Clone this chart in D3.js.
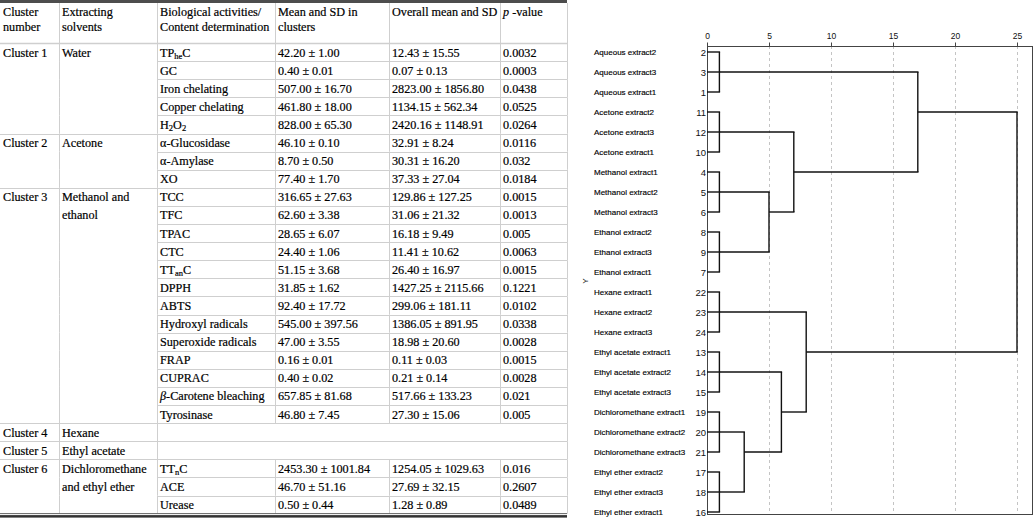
<!DOCTYPE html>
<html><head><meta charset="utf-8">
<script src="https://cdn.jsdelivr.net/npm/d3@7"></script>
<style>body{margin:0;background:#fff;overflow:hidden}</style>
</head><body><svg id="c" width="1034" height="518"></svg>
<script>
// ---------------- TABLE DATA ----------------
const headers = [["Cluster","number"],["Extracting","solvents"],["Biological activities/","Content determination"],["Mean and SD in","clusters"],["Overall mean and SD"],["*p* -value"]];
const clusters = ["Cluster 1","Cluster 2","Cluster 3","Cluster 4","Cluster 5","Cluster 6"];
const solvents = [["Water"],["Acetone"],["Methanol and","ethanol"],["Hexane"],["Ethyl acetate"],["Dichloromethane","and ethyl ether"]];
const activities = [
  ["TP_{he}C","GC","Iron chelating","Copper chelating","H_{2}O_{2}"],
  ["α-Glucosidase","α-Amylase","XO"],
  ["TCC","TFC","TPAC","CTC","TT_{an}C","DPPH","ABTS","Hydroxyl radicals","Superoxide radicals","FRAP","CUPRAC","*β*-Carotene bleaching","Tyrosinase"],
  [],[],
  ["TT_{n}C","ACE","Urease"]
];
const means = [
  ["42.20 ± 1.00","0.40 ± 0.01","507.00 ± 16.70","461.80 ± 18.00","828.00 ± 65.30"],
  ["46.10 ± 0.10","8.70 ± 0.50","77.40 ± 1.70"],
  ["316.65 ± 27.63","62.60 ± 3.38","28.65 ± 6.07","24.40 ± 1.06","51.15 ± 3.68","31.85 ± 1.62","92.40 ± 17.72","545.00 ± 397.56","47.00 ± 3.55","0.16 ± 0.01","0.40 ± 0.02","657.85 ± 81.68","46.80 ± 7.45"],
  [],[],
  ["2453.30 ± 1001.84","46.70 ± 51.16","0.50 ± 0.44"]
];
const overall = [
  ["12.43 ± 15.55","0.07 ± 0.13","2823.00 ± 1856.80","1134.15 ± 562.34","2420.16 ± 1148.91"],
  ["32.91 ± 8.24","30.31 ± 16.20","37.33 ± 27.04"],
  ["129.86 ± 127.25","31.06 ± 21.32","16.18 ± 9.49","11.41 ± 10.62","26.40 ± 16.97","1427.25 ± 2115.66","299.06 ± 181.11","1386.05 ± 891.95","18.98 ± 20.60","0.11 ± 0.03","0.21 ± 0.14","517.66 ± 133.23","27.30 ± 15.06"],
  [],[],
  ["1254.05 ± 1029.63","27.69 ± 32.15","1.28 ± 0.89"]
];
const pvalues = [
  ["0.0032","0.0003","0.0438","0.0525","0.0264"],
  ["0.0116","0.032","0.0184"],
  ["0.0015","0.0013","0.005","0.0063","0.0015","0.1221","0.0102","0.0338","0.0028","0.0015","0.0028","0.021","0.005"],
  [],[],
  ["0.016","0.2607","0.0489"]
];

// ---------------- DENDROGRAM DATA ----------------
const leafLabels = ["Aqueous extract2","Aqueous extract3","Aqueous extract1","Acetone extract2","Acetone extract3","Acetone extract1",
  "Methanol extract1","Methanol extract2","Methanol extract3","Ethanol extract2","Ethanol extract3","Ethanol extract1",
  "Hexane extract1","Hexane extract2","Hexane extract3","Ethyl acetate extract1","Ethyl acetate extract2","Ethyl acetate extract3",
  "Dichloromethane extract1","Dichloromethane extract2","Dichloromethane extract3","Ethyl ether extract2","Ethyl ether extract3","Ethyl ether extract1"];
const leafIds = [2,3,1,11,12,10,4,5,6,8,9,7,22,23,24,13,14,15,19,20,21,17,18,16];
// children: number = leaf index, "mK" = earlier merge K; h = rescaled distance
const merges = [
  {c:[0,1,2],h:1},{c:[3,4,5],h:1},{c:[6,7,8],h:1},{c:[9,10,11],h:1},
  {c:[12,13,14],h:1},{c:[15,16,17],h:1},{c:[18,19,20],h:1},{c:[21,22,23],h:1},
  {c:["m2","m3"],h:5},{c:["m1","m8"],h:7},{c:["m0","m9"],h:17},
  {c:["m6","m7"],h:3},{c:["m5","m11"],h:6},{c:["m4","m12"],h:8},
  {c:["m10","m13"],h:25}
];
const xTicks = [0,5,10,15,20,25];

// ---------------- DRAW TABLE ----------------
const svg = d3.select("#c");
const T = svg.append("g");
const serif = "'Liberation Serif','Times New Roman',serif";
const colEdges = [0,59,157,275,389,500,567];
const headTop = 3, bodyTop = 43, rowH = 18.1;
const grid = "#cfcfcf";

function rich(sel, str){
  const parts = str.split(/(_\{[^}]*\}|\*[^*]*\*)/).filter(s=>s.length);
  let sub=false;
  parts.forEach(p=>{
    if(p.startsWith("_{")){
      sel.append("tspan").attr("font-size","8.5px").attr("dy",sub?0:2.5).text(p.slice(2,-1)); sub=true;
    } else {
      const t = sel.append("tspan");
      if(sub){t.attr("dy",-2.5); sub=false;}
      if(p.startsWith("*")) t.attr("font-style","italic").text(p.slice(1,-1)); else t.text(p);
    }
  });
}
function txt(x,y,s){
  const t = T.append("text").attr("x",x).attr("y",y).attr("font-family",serif).attr("font-size","12.2px")
    .attr("fill","#000").attr("stroke","#000").attr("stroke-width",0.2);
  rich(t,s); return t;
}

const rows = [];
clusters.forEach((cl,ci)=>{
  const n = Math.max(1,activities[ci].length);
  for(let k=0;k<n;k++){
    rows.push({ci,k,first:k===0,act:activities[ci][k],mean:means[ci][k],ov:overall[ci][k],p:pvalues[ci][k]});
  }
});
const yRow = d3.scaleLinear().domain([0,rows.length]).range([bodyTop,bodyTop+rowH*rows.length]);
const bodyBottom = yRow(rows.length);

const line=(x1,y1,x2,y2,c,w)=>T.append("line").attr("x1",x1).attr("y1",y1).attr("x2",x2).attr("y2",y2).attr("stroke",c).attr("stroke-width",w||1);
colEdges.slice(1).forEach(x=>line(x+0.5,headTop,x+0.5,bodyTop,grid));
line(0,bodyTop+0.5,567,bodyTop+0.5,grid,1.5);
rows.forEach((r,i)=>{
  const y0=yRow(i), y1=yRow(i+1);
  [59,157,567].forEach(x=>line(x+0.5,y0,x+0.5,y1,grid));
  if(r.act!==undefined) [275,389,500].forEach(x=>line(x+0.5,y0,x+0.5,y1,grid));
  if(i>0){
    if(r.first) line(0,Math.round(y0)+0.5,567,Math.round(y0)+0.5,grid);
    else line(157,Math.round(y0)+0.5,567,Math.round(y0)+0.5,grid);
  }
});
T.append("rect").attr("x",0).attr("y",0).attr("width",567).attr("height",3).attr("fill","#4d4d4d");
line(0,bodyBottom,567,bodyBottom,"#666",1);
T.append("rect").attr("x",0).attr("y",bodyBottom+1.5).attr("width",567).attr("height",2.5).attr("fill","#333");

headers.forEach((h,ci)=>h.forEach((s,li)=>txt(colEdges[ci]+3,headTop+13+li*15,s)));
rows.forEach((r,i)=>{
  const yb = yRow(i)+13.5;
  if(r.first) txt(colEdges[0]+3,yb,clusters[r.ci]);
  const sv = solvents[r.ci][r.k]; if(sv) txt(colEdges[1]+3,yb,sv);
  if(r.act!==undefined){
    txt(colEdges[2]+3,yb,r.act);
    txt(colEdges[3]+3,yb,r.mean);
    txt(colEdges[4]+3,yb,r.ov);
    txt(colEdges[5]+3,yb,r.p);
  }
});

// ---------------- DRAW DENDROGRAM ----------------
const sans = "'Liberation Sans',Arial,sans-serif";
const D = svg.append("g");
const x = d3.scaleLinear().domain([0,25]).range([707,1017]);
const y = d3.scalePoint().domain(d3.range(leafLabels.length)).range([52,512]);
const frame = {l:707,t:46,r:1033,b:514};

D.selectAll("line.g").data(xTicks.slice(1)).join("line")
  .attr("x1",d=>x(d)+0.5).attr("x2",d=>x(d)+0.5).attr("y1",frame.t).attr("y2",frame.b)
  .attr("stroke","#c4c4c4").attr("stroke-dasharray","3,3");
D.append("rect").attr("x",frame.l+0.5).attr("y",frame.t+0.5).attr("width",frame.r-frame.l-1).attr("height",frame.b-frame.t)
  .attr("fill","none").attr("stroke","#444");
const ax = D.append("g").attr("transform",`translate(0,${frame.t+0.5})`)
  .call(d3.axisTop(x).tickValues(xTicks).tickSize(4).tickPadding(4));
ax.select(".domain").remove();
ax.selectAll("text").attr("font-family",sans).attr("font-size","8.5px").attr("fill","#111");
ax.selectAll(".tick line").attr("stroke","#444");

const nodes = leafLabels.map((l,i)=>({row:i,h:0}));
const mnodes = [];
const getNode = c => typeof c==="number" ? nodes[c] : mnodes[+c.slice(1)];
merges.forEach(m=>{
  const ch = m.c.map(getNode);
  const rowsC = ch.map(n=>n.row);
  const node = {row:Math.floor(d3.mean(rowsC)),h:m.h,ch};
  mnodes.push(node);
  D.append("line").attr("x1",x(m.h)).attr("x2",x(m.h)).attr("y1",y(d3.min(rowsC))).attr("y2",y(d3.max(rowsC)))
    .attr("stroke","#111").attr("stroke-width",1.4);
  ch.forEach(n=>{
    D.append("line").attr("x1",x(n.h)).attr("x2",x(m.h)+0.7).attr("y1",y(n.row)).attr("y2",y(n.row))
      .attr("stroke","#111").attr("stroke-width",1.4);
  });
});

D.selectAll("text.lab").data(leafLabels).join("text").attr("class","lab")
  .attr("x",594).attr("y",(d,i)=>y(i)+3).attr("font-family",sans).attr("font-size","8px")
  .attr("fill","#000").attr("stroke","#000").attr("stroke-width",0.15).text(d=>d);
D.selectAll("text.id").data(leafIds).join("text").attr("class","id")
  .attr("x",706).attr("y",(d,i)=>y(i)+3.5).attr("text-anchor","end").attr("font-family",sans).attr("font-size","9.5px").attr("fill","#111").text(d=>d);
D.append("text").attr("transform","translate(588,281) rotate(-90)").attr("text-anchor","middle")
  .attr("font-family",sans).attr("font-size","8px").attr("fill","#222").text("Y");
</script></body></html>
